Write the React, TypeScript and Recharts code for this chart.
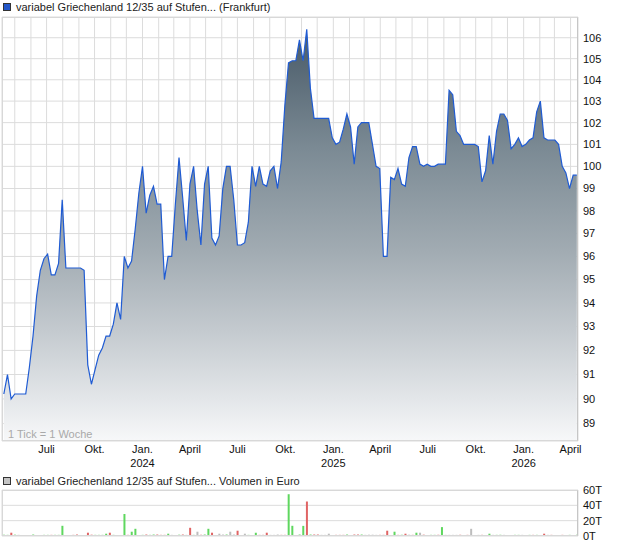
import { Area, AreaChart, Bar, BarChart, CartesianGrid, Cell, XAxis, YAxis } from "recharts";

// Wochenschlusskurse ab der ersten Woche (Montag)
const firstWeek = "2023-04-10";

const weeklyClose = [
  90.2, 91.0, 90.0, 90.2, 90.2, 90.2, 90.2, 91.3, 92.6, 94.3,
  95.4, 95.9, 96.1, 95.2, 95.2, 95.7, 98.5, 95.5, 95.5, 95.5,
  95.5, 95.5, 95.4, 91.4, 90.6, 91.2, 91.8, 92.1, 92.6, 92.6,
  93.1, 94.0, 93.3, 96.0, 95.5, 95.8, 97.2, 98.8, 100.0, 97.9,
  98.7, 99.1, 98.3, 98.3, 95.0, 96.0, 96.0, 98.3, 100.4, 98.6,
  96.7, 99.2, 100.0, 98.0, 96.5, 99.2, 100.0, 96.8, 96.5, 96.9,
  99.0, 100.0, 100.0, 98.5, 96.5, 96.5, 96.6, 97.5, 100.0, 99.1,
  100.0, 99.2, 99.1, 99.8, 100.0, 99.0, 100.2, 102.8, 104.8, 104.9,
  104.9, 105.9, 104.9, 106.4, 103.6, 102.2, 102.2, 102.2, 102.2, 102.2,
  101.3, 101.0, 101.1, 101.7, 102.4, 101.8, 100.1, 101.8, 102.0, 102.0,
  102.0, 101.0, 100.0, 99.9, 96.0, 96.0, 99.5, 99.4, 99.9, 99.2,
  99.1, 100.4, 100.9, 100.9, 100.1, 100.0, 100.1, 100.0, 100.0, 100.1,
  100.1, 100.1, 103.5, 103.3, 101.6, 101.4, 101.0, 101.0, 101.0, 101.0,
  100.9, 99.3, 99.8, 101.4, 100.1, 101.6, 102.4, 102.4, 102.1, 100.8,
  101.0, 101.3, 100.9, 101.0, 101.2, 101.3, 102.5, 103.0, 101.3, 101.2,
  101.2, 101.2, 101.0, 100.0, 99.7, 99.0, 99.6, 99.6
];

// Volumen in Tsd. Euro
const weeklyVolume = [
  1.5, 1.5, 4.3, 1.7, 1.5, 1.3, 0, 0, 1.9, 0,
  0, 1.5, 1.5, 1.5, 1.5, 1.5, 13.3, 0, 0, 1.5,
  1.9, 0, 0, 4.3, 1.7, 1.5, 1.5, 1.5, 3.0, 4.3,
  1.5, 0, 0, 28.7, 1.5, 5.6, 9.4, 0, 1.5, 1.9,
  1.5, 1.9, 1.9, 1.5, 1.5, 3.0, 1.5, 0, 1.7, 1.9,
  1.5, 10.7, 1.5, 5.6, 1.6, 1.9, 9.4, 4.3, 0, 3.0,
  1.9, 1.9, 5.6, 1.9, 6.9, 0, 3.0, 1.5, 0, 4.3,
  1.5, 1.5, 4.3, 1.5, 1.5, 1.9, 1.5, 1.5, 54.5, 13.3,
  0, 1.9, 13.2, 45.0, 1.9, 1.9, 1.9, 1.5, 1.5, 3.0,
  0, 1.5, 1.5, 1.5, 1.9, 0, 1.9, 1.9, 1.9, 1.5,
  1.7, 1.7, 1.5, 1.5, 1.5, 6.9, 0, 5.6, 1.5, 1.6,
  3.0, 1.7, 1.5, 4.3, 4.3, 1.7, 0, 1.5, 1.5, 1.6,
  11.6, 1.5, 1.5, 1.5, 1.5, 1.6, 0, 1.5, 9.4, 0,
  1.5, 1.5, 0, 3.0, 1.5, 1.5, 1.6, 1.5, 0, 0,
  1.5, 1.5, 1.5, 0, 1.5, 1.5, 1.5, 0, 3.0, 1.5,
  1.5, 0, 0, 1.5, 0, 1.5, 0, 1.6
];

// u = gestiegen, d = gefallen, n = unverändert
const volumeTrend = [
  "u", "u", "d", "u", "n", "n", "n", "n", "u", "n",
  "n", "u", "u", "d", "u", "u", "u", "n", "n", "d",
  "d", "n", "n", "d", "d", "u", "u", "u", "u", "d",
  "u", "n", "n", "u", "d", "u", "u", "n", "u", "d",
  "u", "u", "d", "d", "d", "u", "n", "n", "u", "d",
  "n", "d", "u", "n", "d", "u", "u", "d", "n", "n",
  "n", "u", "n", "n", "d", "n", "n", "u", "n", "u",
  "d", "d", "d", "n", "n", "n", "d", "d", "u", "u",
  "n", "u", "u", "d", "u", "d", "d", "n", "n", "n",
  "n", "d", "d", "d", "u", "n", "d", "d", "u", "n",
  "n", "n", "n", "d", "d", "d", "n", "u", "d", "u",
  "d", "n", "d", "u", "n", "d", "n", "u", "u", "d",
  "u", "n", "n", "n", "n", "d", "n", "d", "n", "n",
  "n", "d", "n", "u", "n", "u", "u", "n", "n", "n",
  "u", "u", "n", "n", "u", "d", "u", "n", "d", "n",
  "d", "n", "n", "d", "n", "u", "n", "u"
];

const priceTicks = [89, 90, 91, 92, 93, 94, 95, 96, 97, 98, 99, 100, 101, 102, 103, 104, 105, 106];
const volumeTicks = [0, 20, 40, 60];
const monthLabels: Record<number, string> = { 0: "Jan.", 3: "April", 6: "Juli", 9: "Okt." };
const trendColors: Record<string, string> = { u: "#5fd75f", d: "#e06464", n: "#bdbdbd" };

const DAY = 86400000;
const start = Date.parse(firstWeek + "T00:00:00Z");
const weeks = weeklyClose.map((close, i) => ({
  t: start + i * 7 * DAY,
  close,
  vol: weeklyVolume[i],
  trend: volumeTrend[i]
}));

const xDomain: [number, number] = [Date.UTC(2023, 3, 6, 12), Date.UTC(2026, 3, 15, 6)];
const monthTicks = Array.from({ length: 36 }, (_, k) => Date.UTC(2023, 4 + k, 1));
const weekTicks = weeks.map((w) => w.t);

const FONT = '"Liberation Sans", Arial, sans-serif';

function MonthTick({ x, y, payload }: any) {
  const d = new Date(payload.value);
  const m = d.getUTCMonth();
  const label = monthLabels[m];
  if (!label) return <g />;
  return (
    <g>
      <text x={x} y={y + 12} textAnchor="middle" fontSize={11} fill="#111">
        {label}
      </text>
      {m === 0 ? (
        <text x={x} y={y + 26} textAnchor="middle" fontSize={11} fill="#111">
          {d.getUTCFullYear()}
        </text>
      ) : null}
    </g>
  );
}

function LegendBox({ top, color }: { top: number; color: string }) {
  return (
    <div
      style={{
        position: "absolute",
        left: 3,
        top,
        width: 8,
        height: 8,
        boxSizing: "border-box",
        background: color,
        border: "1px solid #333"
      }}
    />
  );
}

export default function App() {
  return (
    <div
      style={{
        position: "absolute",
        left: 0,
        top: 0,
        width: 620,
        height: 546,
        background: "#fff",
        fontFamily: FONT,
        overflow: "hidden"
      }}
    >
      <LegendBox top={3} color="#2457c9" />
      <div style={{ position: "absolute", left: 16, top: 1, fontSize: 11, lineHeight: "13px", color: "#222", whiteSpace: "nowrap" }}>
        variabel Griechenland 12/35 auf Stufen... (Frankfurt)
      </div>

      <div style={{ position: "absolute", left: 0, top: 0 }}>
        <AreaChart width={620} height={475} data={weeks} margin={{ top: 17, right: 0, bottom: 0, left: 2 }}>
          <defs>
            <linearGradient id="priceFill" gradientUnits="userSpaceOnUse" x1="0" y1="17" x2="0" y2="441">
              <stop offset="0%" stopColor="#485a68" />
              <stop offset="10%" stopColor="#546572" />
              <stop offset="31%" stopColor="#7b8a94" />
              <stop offset="55%" stopColor="#a1abb2" />
              <stop offset="74%" stopColor="#c4cacf" />
              <stop offset="90%" stopColor="#e3e6e9" />
              <stop offset="100%" stopColor="#f7f8f9" />
            </linearGradient>
          </defs>
          <CartesianGrid stroke="#dcdcdc" />
          <XAxis
            xAxisId="weeks"
            type="number"
            dataKey="t"
            domain={xDomain}
            ticks={weekTicks}
            interval={0}
            height={0}
            tick={false}
            tickSize={3}
            axisLine={false}
            tickLine={{ stroke: "#d0d0d0" }}
            allowDataOverflow
          />
          <XAxis
            type="number"
            dataKey="t"
            domain={xDomain}
            ticks={monthTicks}
            interval={0}
            height={34}
            tick={<MonthTick />}
            tickSize={0}
            tickMargin={0}
            tickLine={false}
            axisLine={false}
            allowDataOverflow
          />
          <YAxis
            orientation="right"
            type="number"
            scale="log"
            domain={[88.3, 107]}
            ticks={priceTicks}
            interval={0}
            allowDataOverflow
            width={42}
            tickLine={false}
            axisLine={false}
            tickSize={4}
            tickMargin={1}
            tick={{ fontSize: 11, fill: "#111" }}
          />
          <Area
            type="linear"
            dataKey="close"
            stroke="#1f5bd3"
            strokeWidth={1.2}
            fill="url(#priceFill)"
            fillOpacity={1}
            baseValue="dataMin"
            dot={false}
            activeDot={false}
            isAnimationActive={false}
          />
        </AreaChart>
      </div>
      <div
        style={{
          position: "absolute",
          left: 2,
          top: 17,
          width: 576,
          height: 424,
          boxSizing: "border-box",
          border: "1px solid #d8d8d8",
          borderRightColor: "#c6c6c6",
          pointerEvents: "none"
        }}
      />
      <div style={{ position: "absolute", left: 8, top: 428, fontSize: 11, lineHeight: "13px", color: "#a9a9a9" }}>
        1 Tick = 1 Woche
      </div>

      <LegendBox top={477} color="#c4c4c4" />
      <div style={{ position: "absolute", left: 16, top: 475, fontSize: 11, lineHeight: "13px", color: "#222", whiteSpace: "nowrap" }}>
        variabel Griechenland 12/35 auf Stufen... Volumen in Euro
      </div>

      <div style={{ position: "absolute", left: 0, top: 470 }}>
        <BarChart width={620} height={76} data={weeks} margin={{ top: 20, right: 0, bottom: 10, left: 2 }}>
          <CartesianGrid stroke="#dcdcdc" />
          <XAxis
            type="number"
            dataKey="t"
            domain={xDomain}
            ticks={monthTicks}
            interval={0}
            height={0}
            tick={false}
            tickLine={false}
            axisLine={false}
            allowDataOverflow
          />
          <YAxis
            orientation="right"
            type="number"
            domain={[0, 60]}
            ticks={volumeTicks}
            interval={0}
            allowDataOverflow
            width={42}
            tickLine={false}
            axisLine={false}
            tickSize={4}
            tickMargin={1}
            tick={{ fontSize: 11, fill: "#111" }}
            tickFormatter={(v) => `${v}T`}
          />
          <Bar dataKey="vol" barSize={2} isAnimationActive={false}>
            {weeks.map((w) => (
              <Cell key={w.t} fill={trendColors[w.trend]} />
            ))}
          </Bar>
        </BarChart>
      </div>
      <div
        style={{
          position: "absolute",
          left: 2,
          top: 490,
          width: 576,
          height: 46,
          boxSizing: "border-box",
          border: "1px solid #d8d8d8",
          borderRightColor: "#c6c6c6",
          pointerEvents: "none"
        }}
      />
    </div>
  );
}
